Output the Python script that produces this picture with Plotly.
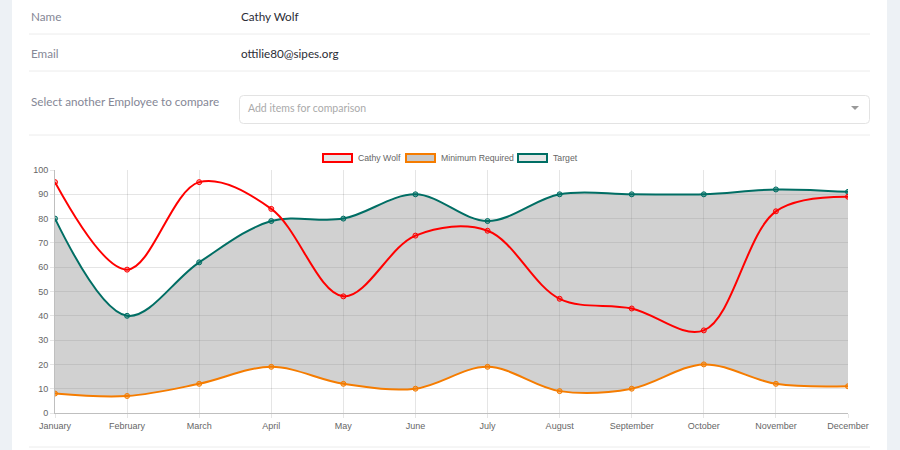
import plotly.graph_objects as go

# chart data
months = ["January", "February", "March", "April", "May", "June",
          "July", "August", "September", "October", "November", "December"]
cathy_wolf = [95, 59, 95, 84, 48, 73, 75, 47, 43, 34, 83, 89]
minimum_required = [8, 7, 12, 19, 12, 10, 19, 9, 10, 20, 12, 11]
target = [80, 40, 62, 79, 80, 90, 79, 90, 90, 90, 92, 91]
y_ticks = list(range(0, 101, 10))

RED = "rgb(255,0,0)"
ORANGE = "rgb(245,124,0)"
TEAL = "rgb(0,110,100)"

W, H = 900, 450
L, R, T, B = 55, 848, 170, 413


def px(x):
    # pixel -> paper x
    return (x - L) / (R - L)


def py(y):
    # pixel -> paper y
    return (B - y) / (B - T)


fig = go.Figure()

fig.add_trace(go.Scatter(
    name="Minimum Required", x=months, y=minimum_required,
    mode="lines+markers", line=dict(color=ORANGE, width=2, shape="spline", smoothing=1),
    marker=dict(size=5, color="rgba(245,124,0,0.45)", line=dict(color=ORANGE, width=1)),
))
fig.add_trace(go.Scatter(
    name="Target", x=months, y=target, fill="tonexty", fillcolor="rgba(140,140,140,0.4)",
    mode="lines+markers", line=dict(color=TEAL, width=2, shape="spline", smoothing=1),
    marker=dict(size=5, color="rgba(0,110,100,0.45)", line=dict(color=TEAL, width=1)),
))
fig.add_trace(go.Scatter(
    name="Cathy Wolf", x=months, y=cathy_wolf,
    mode="lines+markers", line=dict(color=RED, width=2, shape="spline", smoothing=1),
    marker=dict(size=5, color="rgba(255,0,0,0.3)", line=dict(color=RED, width=1)),
))

shapes = []
annotations = []

# white card on grey page
shapes.append(dict(type="rect", xref="paper", yref="paper", layer="below",
                   x0=px(12), x1=px(887), y0=py(H + 5), y1=py(-5),
                   fillcolor="white", line=dict(width=0)))

# separators of the form rows
for sy in [34, 71, 135, 447]:
    shapes.append(dict(type="line", xref="paper", yref="paper",
                       x0=px(29), x1=px(870), y0=py(sy), y1=py(sy),
                       line=dict(color="#ececec", width=1)))

# select box with rounded corners
bx0, bx1, by0, by1, rr = 239.5, 869.5, 95.5, 123.5, 4
path = (f"M {px(bx0 + rr)},{py(by0)} L {px(bx1 - rr)},{py(by0)} "
        f"Q {px(bx1)},{py(by0)} {px(bx1)},{py(by0 + rr)} L {px(bx1)},{py(by1 - rr)} "
        f"Q {px(bx1)},{py(by1)} {px(bx1 - rr)},{py(by1)} L {px(bx0 + rr)},{py(by1)} "
        f"Q {px(bx0)},{py(by1)} {px(bx0)},{py(by1 - rr)} L {px(bx0)},{py(by0 + rr)} "
        f"Q {px(bx0)},{py(by0)} {px(bx0 + rr)},{py(by0)} Z")
shapes.append(dict(type="path", xref="paper", yref="paper", path=path,
                   line=dict(color="#e3e3e3", width=1), fillcolor="white"))
# caret
shapes.append(dict(type="path", xref="paper", yref="paper",
                   path=f"M {px(851)},{py(106)} L {px(859)},{py(106)} L {px(855)},{py(110)} Z",
                   line=dict(width=0), fillcolor="#999999"))

form_font = "Lato, 'Noto Sans', sans-serif"
form_rows = [
    ("Name", "Cathy Wolf", 16),
    ("Email", "ottilie80@sipes.org", 53),
]
for label, value, ry in form_rows:
    annotations.append(dict(text=label, x=px(29), y=py(ry), xref="paper", yref="paper",
                            xanchor="left", yanchor="middle", showarrow=False,
                            font=dict(family=form_font, size=11.7, color="#858796")))
    annotations.append(dict(text=value, x=px(239), y=py(ry), xref="paper", yref="paper",
                            xanchor="left", yanchor="middle", showarrow=False,
                            font=dict(family=form_font, size=11.7, color="#2b2d36")))
annotations.append(dict(text="Select another Employee to compare", x=px(29), y=py(101),
                        xref="paper", yref="paper", xanchor="left", yanchor="middle",
                        showarrow=False, font=dict(family=form_font, size=11.7, color="#858796")))
annotations.append(dict(text="Add items for comparison", x=px(246), y=py(108),
                        xref="paper", yref="paper", xanchor="left", yanchor="middle",
                        showarrow=False, font=dict(family=form_font, size=10.5, color="#aaaaaa")))

# chart.js style legend
legend_items = [
    ("Cathy Wolf", RED, "#e6e6e6", 322),
    ("Minimum Required", ORANGE, "#c8c8c8", 405),
    ("Target", TEAL, "#e6e6e6", 517),
]
for name, col, fill, lx in legend_items:
    shapes.append(dict(type="rect", xref="paper", yref="paper",
                       x0=px(lx + 1), x1=px(lx + 30), y0=py(162), y1=py(154),
                       line=dict(color=col, width=2), fillcolor=fill))
    annotations.append(dict(text=name, x=px(lx + 34), y=py(158), xref="paper", yref="paper",
                            xanchor="left", yanchor="middle", showarrow=False,
                            font=dict(family="Liberation Sans, Arial", size=8.7, color="#666666")))

fig.update_layout(
    width=W, height=H,
    margin=dict(l=L, r=W - R, t=T, b=H - B),
    paper_bgcolor="#edf1f5", plot_bgcolor="white",
    showlegend=False, hovermode=False,
    shapes=shapes, annotations=annotations,
    font=dict(family="Liberation Sans, Arial", size=9, color="#666666"),
)
fig.update_xaxes(
    range=[0, len(months) - 1], showgrid=True, gridcolor="rgba(0,0,0,0.1)",
    ticks="outside", ticklen=4, tickcolor="rgba(0,0,0,0.1)",
    showline=True, linecolor="rgba(0,0,0,0.25)", linewidth=1, zeroline=False,
    tickfont=dict(size=9, color="#666666"), mirror=False,
)
fig.update_yaxes(
    range=[0, 100], tickvals=y_ticks, showgrid=True, gridcolor="rgba(0,0,0,0.1)",
    ticks="outside", ticklen=4, tickcolor="rgba(0,0,0,0.1)",
    showline=True, linecolor="rgba(0,0,0,0.25)", linewidth=1, zeroline=False,
    tickfont=dict(size=9, color="#666666"),
)

# the page is photographed from its top-left corner, so drop the body margin
fig.write_html("out.html", config={"displayModeBar": False},
               post_script="document.body.style.margin='0';")
